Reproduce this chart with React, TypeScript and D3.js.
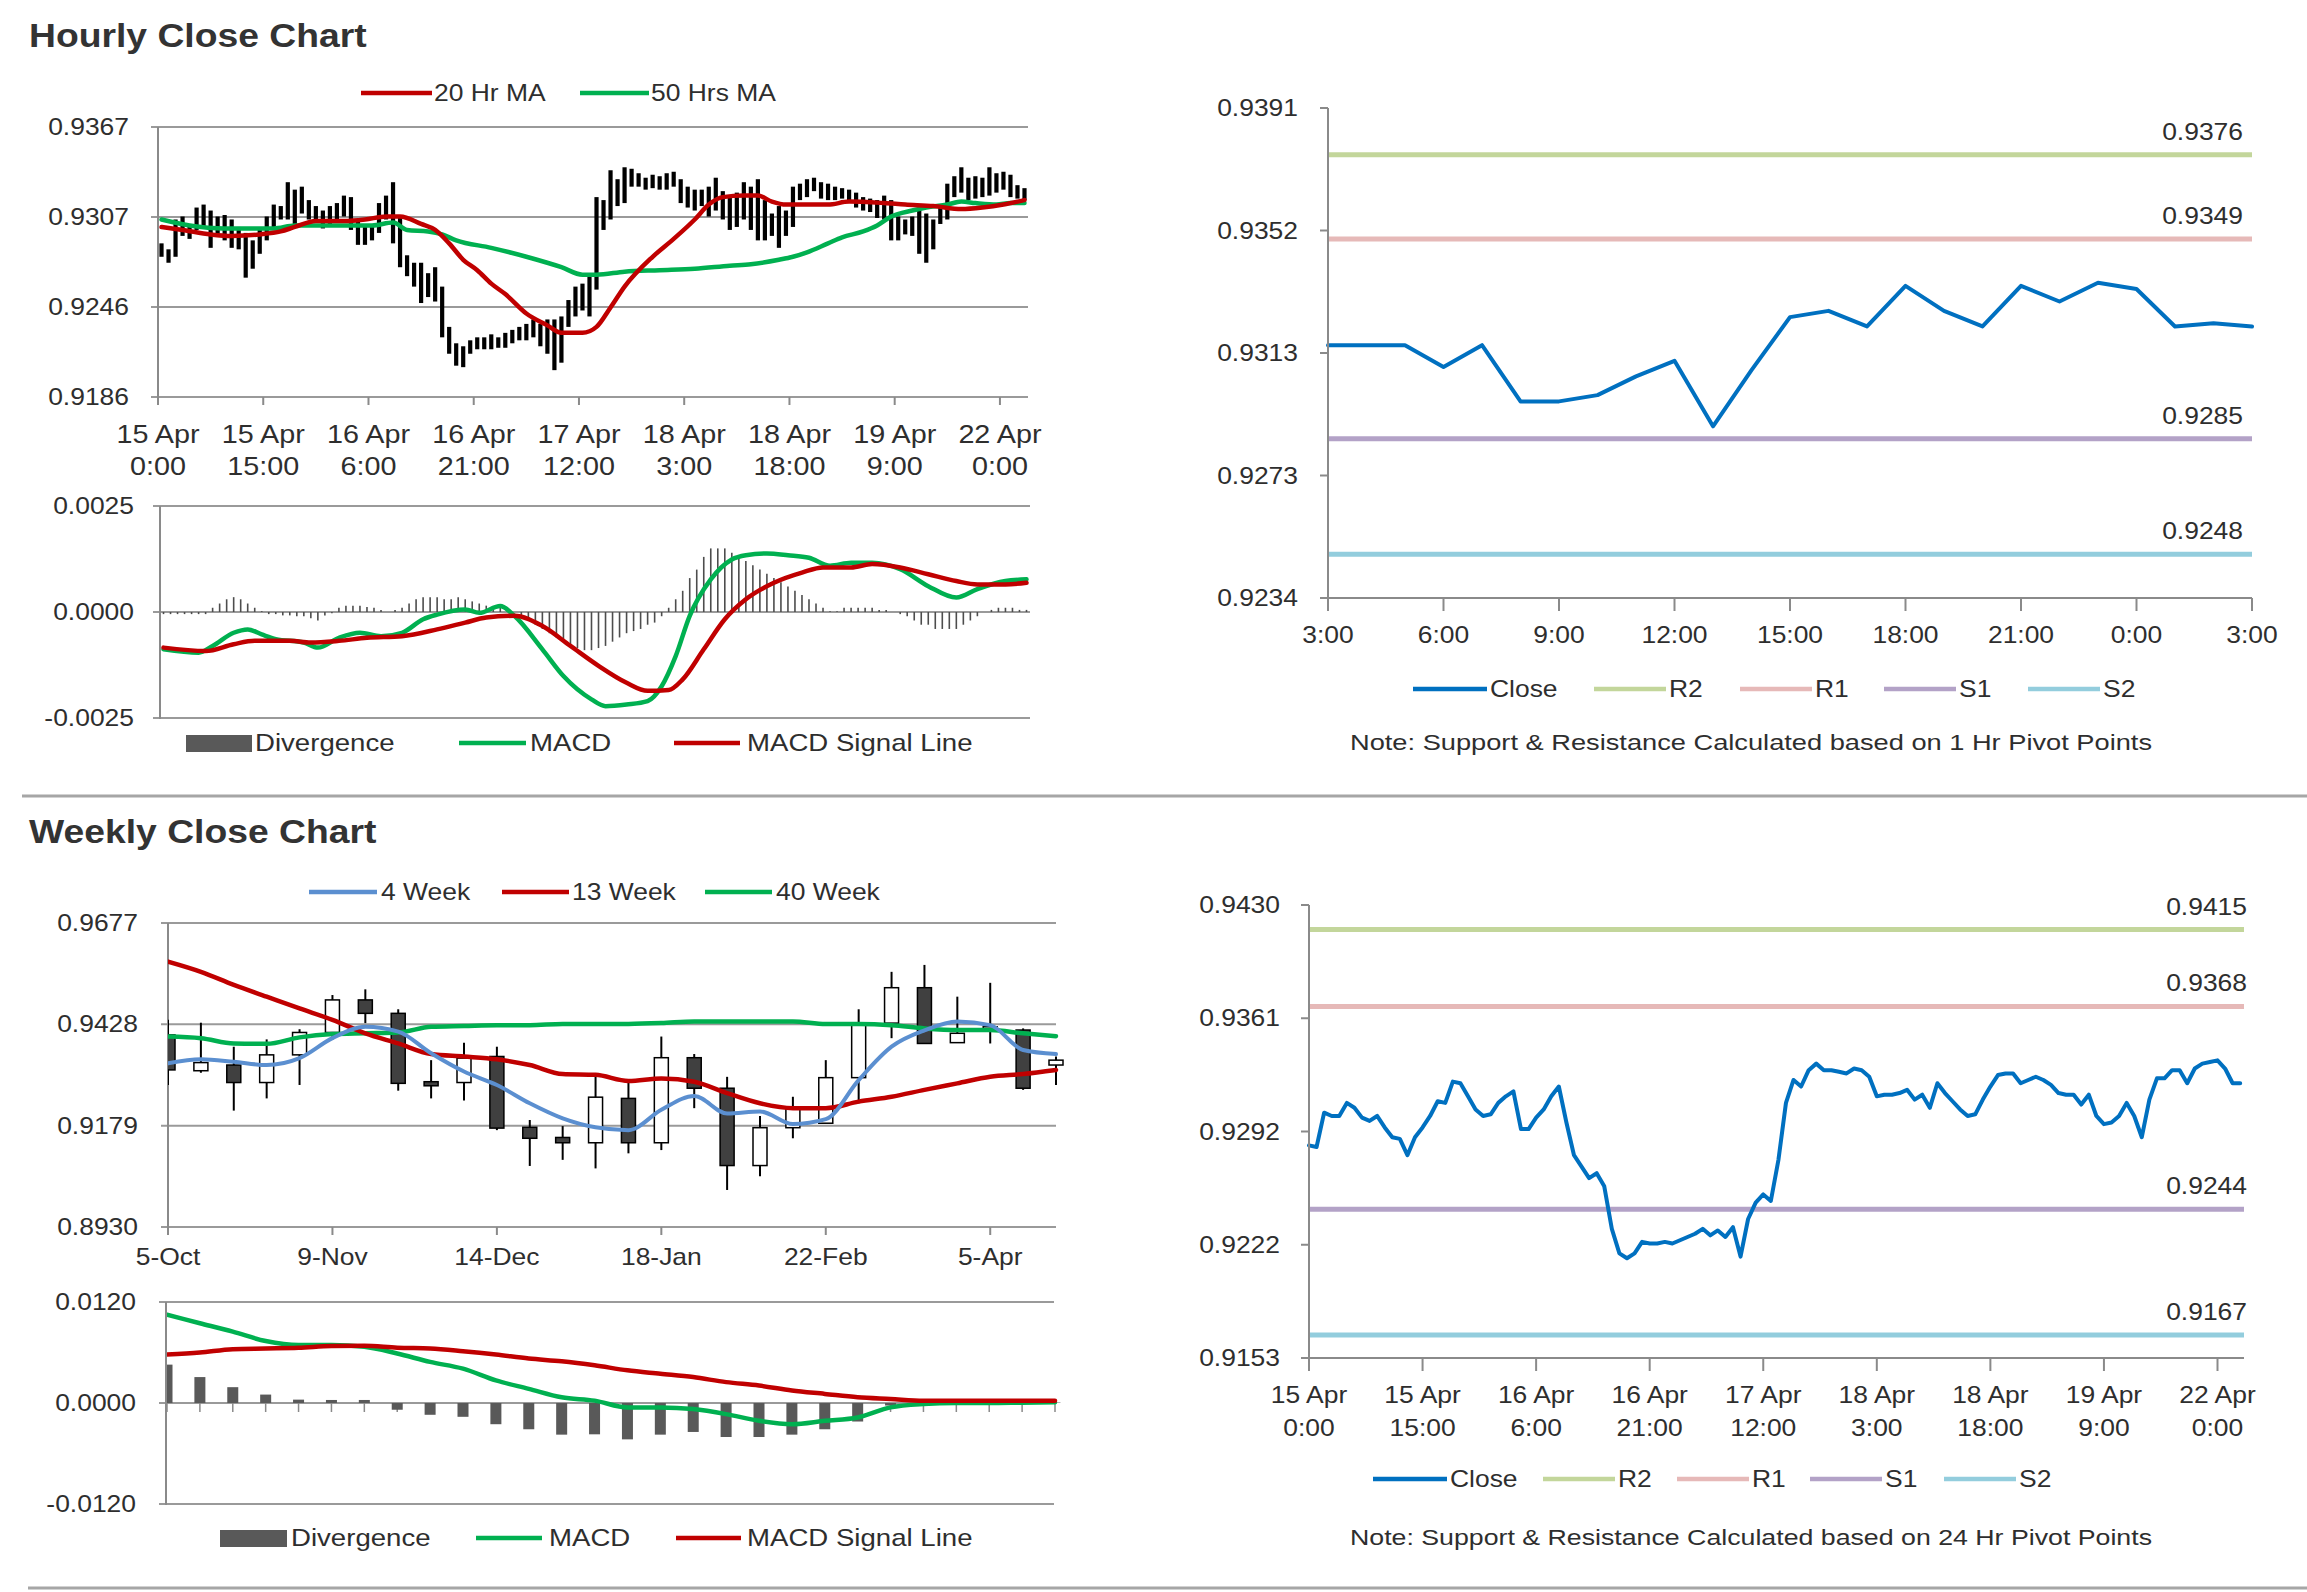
import { useEffect, useRef } from 'react';
import * as d3 from 'd3';

// ---------- hourly data, 15 Apr 0:00 -> 22 Apr 3:00 (one value per hour) ----------
const hourlyHigh = [
  0.9289, 0.9285, 0.9305, 0.9307, 0.9302, 0.9313, 0.9315, 0.9311, 0.9307, 0.9308,
  0.9305, 0.9300, 0.9296, 0.9291, 0.9298, 0.9307, 0.9315, 0.9314, 0.9330, 0.9325,
  0.9327, 0.9318, 0.9314, 0.9311, 0.9314, 0.9316, 0.9321, 0.9320, 0.9305, 0.9300,
  0.9300, 0.9316, 0.9321, 0.9330, 0.9307, 0.9281, 0.9276, 0.9276, 0.9269, 0.9273,
  0.9260, 0.9233, 0.9222, 0.9220, 0.9224, 0.9226, 0.9226, 0.9228, 0.9226, 0.9229,
  0.9231, 0.9233, 0.9235, 0.9238, 0.9235, 0.9238, 0.9238, 0.9240, 0.9251, 0.9260,
  0.9262, 0.9267, 0.9320, 0.9318, 0.9338, 0.9332, 0.9340, 0.9339, 0.9336, 0.9333,
  0.9335, 0.9334, 0.9336, 0.9337, 0.9332, 0.9327, 0.9325, 0.9325, 0.9327, 0.9333,
  0.9324, 0.9320, 0.9323, 0.9330, 0.9327, 0.9332, 0.9318, 0.9309, 0.9314, 0.9311,
  0.9327, 0.9329, 0.9332, 0.9333, 0.9330, 0.9329, 0.9327, 0.9326, 0.9325, 0.9323,
  0.9320, 0.9319, 0.9318, 0.9321, 0.9318, 0.9307, 0.9305, 0.9307, 0.9311, 0.9309,
  0.9305, 0.9314, 0.9329, 0.9334, 0.9340, 0.9333, 0.9334, 0.9333, 0.9340, 0.9336,
  0.9337, 0.9335, 0.9328, 0.9326,
];
const hourlyLow = [
  0.9280, 0.9276, 0.9280, 0.9294, 0.9292, 0.9298, 0.9300, 0.9286, 0.9295, 0.9291,
  0.9286, 0.9285, 0.9266, 0.9272, 0.9282, 0.9291, 0.9299, 0.9305, 0.9305, 0.9302,
  0.9309, 0.9305, 0.9304, 0.9299, 0.9302, 0.9305, 0.9307, 0.9298, 0.9288, 0.9288,
  0.9291, 0.9296, 0.9305, 0.9289, 0.9273, 0.9267, 0.9260, 0.9249, 0.9253, 0.9250,
  0.9226, 0.9215, 0.9207, 0.9206, 0.9215, 0.9218, 0.9218, 0.9218, 0.9219, 0.9219,
  0.9222, 0.9224, 0.9224, 0.9226, 0.9220, 0.9215, 0.9204, 0.9209, 0.9233, 0.9240,
  0.9244, 0.9240, 0.9258, 0.9298, 0.9305, 0.9314, 0.9316, 0.9327, 0.9327, 0.9325,
  0.9326, 0.9325, 0.9325, 0.9327, 0.9316, 0.9313, 0.9311, 0.9314, 0.9307, 0.9311,
  0.9305, 0.9298, 0.9300, 0.9305, 0.9298, 0.9291, 0.9291, 0.9294, 0.9286, 0.9294,
  0.9300, 0.9318, 0.9320, 0.9324, 0.9319, 0.9318, 0.9318, 0.9319, 0.9317, 0.9313,
  0.9311, 0.9310, 0.9306, 0.9305, 0.9291, 0.9291, 0.9295, 0.9294, 0.9282, 0.9276,
  0.9285, 0.9302, 0.9305, 0.9320, 0.9323, 0.9318, 0.9319, 0.9320, 0.9321, 0.9323,
  0.9325, 0.9320, 0.9319, 0.9318,
];
const hourlyClose = [
  0.9283, 0.9282, 0.9303, 0.9301, 0.9301, 0.9309, 0.9306, 0.9300, 0.9298, 0.9301,
  0.9294, 0.9288, 0.9287, 0.9277, 0.9288, 0.9294, 0.9301, 0.9310, 0.9309, 0.9322,
  0.9321, 0.9313, 0.9305, 0.9301, 0.9302, 0.9309, 0.9313, 0.9316, 0.9293, 0.9293,
  0.9300, 0.9305, 0.9313, 0.9319, 0.9297, 0.9277, 0.9270, 0.9263, 0.9266, 0.9258,
  0.9232, 0.9217, 0.9214, 0.9217, 0.9224, 0.9223, 0.9223, 0.9224, 0.9223, 0.9225,
  0.9227, 0.9229, 0.9232, 0.9228, 0.9231, 0.9227, 0.9233, 0.9215, 0.9238, 0.9248,
  0.9253, 0.9249, 0.9274, 0.9309, 0.9323, 0.9319, 0.9329, 0.9333, 0.9329, 0.9329,
  0.9328, 0.9327, 0.9330, 0.9329, 0.9325, 0.9313, 0.9314, 0.9314, 0.9315, 0.9317,
  0.9311, 0.9314, 0.9306, 0.9321, 0.9315, 0.9310, 0.9305, 0.9301, 0.9302, 0.9311,
  0.9319, 0.9326, 0.9327, 0.9327, 0.9321, 0.9323, 0.9325, 0.9323, 0.9320, 0.9315,
  0.9314, 0.9314, 0.9308, 0.9314, 0.9301, 0.9296, 0.9297, 0.9301, 0.9309, 0.9301,
  0.9288, 0.9311, 0.9324, 0.9324, 0.9329, 0.9329, 0.9321, 0.9330, 0.9333, 0.9334,
  0.9335, 0.9330, 0.9321, 0.9321,
];

// moving averages read at selected hours
const ma20Hours = [0, 3, 7, 10, 14, 17, 19, 22, 26, 29, 32, 34, 37, 39, 41, 43, 45, 47, 49, 52, 55, 57, 60, 62, 64, 66, 70, 73, 76, 78, 80, 83, 85, 87, 89, 92, 95, 98, 103, 106, 110, 114, 117, 120, 123];
const ma20Values = [
  0.9300, 0.9298, 0.9295, 0.9294, 0.9295, 0.9297, 0.9300, 0.9304, 0.9304, 0.9305,
  0.9307, 0.9307, 0.9302, 0.9298, 0.9289, 0.9278, 0.9271, 0.9262, 0.9255, 0.9242,
  0.9234, 0.9229, 0.9229, 0.9233, 0.9246, 0.9260, 0.9280, 0.9292, 0.9305, 0.9315,
  0.9320, 0.9321, 0.9321, 0.9317, 0.9315, 0.9315, 0.9315, 0.9317, 0.9316, 0.9315,
  0.9314, 0.9312, 0.9313, 0.9315, 0.9318,
];
const ma50Hours = [0, 4, 9, 16, 19, 23, 30, 33, 35, 38, 40, 42, 47, 52, 57, 60, 62, 66, 71, 76, 81, 84, 88, 90, 92, 95, 97, 100, 102, 104, 107, 109, 112, 114, 116, 119, 121, 123];
const ma50Values = [
  0.9305, 0.9301, 0.9299, 0.9299, 0.9301, 0.9301, 0.9301, 0.9303, 0.9298, 0.9297,
  0.9295, 0.9291, 0.9286, 0.9280, 0.9273, 0.9268, 0.9268, 0.9270, 0.9271, 0.9272,
  0.9274, 0.9275, 0.9278, 0.9280, 0.9283, 0.9289, 0.9293, 0.9297, 0.9301, 0.9307,
  0.9311, 0.9313, 0.9315, 0.9317, 0.9316, 0.9315, 0.9316, 0.9316,
];

// hourly MACD
const hMacdHours = [0, 5, 7, 10, 12, 14, 16, 20, 22, 25, 28, 31, 34, 37, 39, 43, 45, 48, 50, 54, 57, 61, 63, 66, 69, 71, 73, 75, 78, 81, 83, 86, 89, 92, 95, 98, 101, 105, 109, 113, 116, 120, 123];
const hMacdValues = [
  -0.00088, -0.00096, -0.00080, -0.00049, -0.00041, -0.00053, -0.00064, -0.00072, -0.00084, -0.00061,
  -0.00049, -0.00057, -0.00049, -0.00017, -0.00006, 0.00006, -0.00002, 0.00014, -0.00009, -0.00088,
  -0.00151, -0.00206, -0.00222, -0.00218, -0.00210, -0.00175, -0.00104, -0.00009, 0.00077, 0.00124,
  0.00134, 0.00138, 0.00134, 0.00128, 0.00109, 0.00116, 0.00116, 0.00101, 0.00061, 0.00034,
  0.00054, 0.00073, 0.00077,
];
const hSignalHours = [0, 6, 10, 13, 18, 21, 25, 29, 34, 39, 43, 46, 50, 54, 58, 62, 66, 69, 72, 74, 77, 80, 83, 87, 91, 94, 98, 101, 105, 109, 113, 116, 120, 123];
const hSignalValues = [
  -0.00084, -0.00092, -0.00076, -0.00068, -0.00068, -0.00072, -0.00068, -0.00061, -0.00057, -0.00041,
  -0.00025, -0.00013, -0.00009, -0.00033, -0.00080, -0.00127, -0.00167, -0.00186, -0.00184, -0.00159,
  -0.00088, -0.00017, 0.00030, 0.00069, 0.00093, 0.00105, 0.00105, 0.00113, 0.00105, 0.00089,
  0.00073, 0.00065, 0.00065, 0.00069,
];
const hDivergence = [
  -0.00005, -0.00005, -0.00005, -0.00005, -0.00005, -0.00005, -0.00005, 0.0001, 0.0002, 0.0003,
  0.00035, 0.0003, 0.0002, 0.0001, 0.00002, -0.00005, -0.00005, -0.00008, -0.00008, -0.0001,
  -0.0001, -0.00015, -0.0002, -0.00008, -0.00003, 0.0001, 0.00015, 0.00015, 0.00015, 0.00012,
  0.0001, 0.00005, 0, 0.00005, 0.0001, 0.0002, 0.0003, 0.00035, 0.00035, 0.00035,
  0.0003, 0.0003, 0.00035, 0.0003, 0.00025, 0.0002, 0.00015, 0.0001, 0.0001, 0.00005,
  0, -0.0001, -0.0002, -0.0003, -0.0004, -0.0005, -0.0006, -0.0007, -0.0008, -0.00085,
  -0.0009, -0.0009, -0.00085, -0.0008, -0.0007, -0.0006, -0.0005, -0.00045, -0.0004, -0.0003,
  -0.00025, -0.0001, 0.0001, 0.0003, 0.0005, 0.0008, 0.001, 0.0013, 0.0015, 0.0015,
  0.0015, 0.0014, 0.0013, 0.0012, 0.0011, 0.001, 0.0009, 0.0008, 0.0007, 0.0006,
  0.0005, 0.0004, 0.0003, 0.0002, 0.0001, 0.00002, 0.00002, 0.0001, 0.0001, 0.0001,
  0.0001, 0.0001, 0.00005, 0.00005, 0, -0.00005, -0.0001, -0.0002, -0.0003, -0.0003,
  -0.0004, -0.0004, -0.0004, -0.0004, -0.0003, -0.0002, -0.0001, 0, 0.00005, 0.0001,
  0.0001, 0.0001, 0.00005, 0.00005,
];

const hourlyAxisTicks = [0.9186, 0.92463, 0.93067, 0.9367];
const hourlyTickLabels = [
  ['15 Apr', '0:00'], ['15 Apr', '15:00'], ['16 Apr', '6:00'], ['16 Apr', '21:00'], ['17 Apr', '12:00'],
  ['18 Apr', '3:00'], ['18 Apr', '18:00'], ['19 Apr', '9:00'], ['22 Apr', '0:00'],
];
const hMacdTicks = [-0.0025, 0, 0.0025];

// ---------- last 25 hours, 1 Hr pivots ----------
const pivotHourClose = [
  0.9315, 0.9315, 0.9315, 0.9308, 0.9315, 0.9297, 0.9297, 0.9299, 0.9305, 0.9310,
  0.9289, 0.9307, 0.9324, 0.9326, 0.9321, 0.9334, 0.9326, 0.9321, 0.9334, 0.9329,
  0.9335, 0.9333, 0.9321, 0.9322, 0.9321,
];
const pivotHourLabels = ['3:00', '6:00', '9:00', '12:00', '15:00', '18:00', '21:00', '0:00', '3:00'];
const pivotHourAxis = ['0.9234', '0.9273', '0.9313', '0.9352', '0.9391'];
const pivotHourLevels = [0.9376, 0.9349, 0.9285, 0.9248]; // R2, R1, S1, S2

// ---------- weekly data ----------
const weeklyOpen = [
  0.9402, 0.9314, 0.9328, 0.9285, 0.9353, 0.9408, 0.9488, 0.9455, 0.9287, 0.9285,
  0.9349, 0.9175, 0.9150, 0.9137, 0.9246, 0.9137, 0.9346, 0.9271, 0.9081, 0.9174,
  0.9185, 0.9297, 0.9431, 0.9518, 0.9383, 0.9422, 0.9414, 0.9328,
];
const weeklyHigh = [
  0.9439, 0.9432, 0.9373, 0.9391, 0.9416, 0.9500, 0.9514, 0.9465, 0.9340, 0.9383,
  0.9373, 0.9193, 0.9178, 0.9301, 0.9285, 0.9398, 0.9355, 0.9299, 0.9203, 0.9250,
  0.9340, 0.9465, 0.9557, 0.9574, 0.9496, 0.9530, 0.9418, 0.9349,
];
const weeklyLow = [
  0.9279, 0.9309, 0.9216, 0.9246, 0.9279, 0.9390, 0.9431, 0.9265, 0.9246, 0.9241,
  0.9168, 0.9080, 0.9095, 0.9074, 0.9111, 0.9119, 0.9222, 0.9021, 0.9055, 0.9148,
  0.9185, 0.9234, 0.9394, 0.9381, 0.9383, 0.9381, 0.9267, 0.9279,
];
const weeklyClose = [
  0.9316, 0.9334, 0.9285, 0.9353, 0.9408, 0.9488, 0.9455, 0.9283, 0.9277, 0.9345,
  0.9173, 0.9148, 0.9137, 0.9249, 0.9137, 0.9346, 0.9271, 0.9081, 0.9174, 0.9222,
  0.9297, 0.9431, 0.9518, 0.9381, 0.9406, 0.9422, 0.9271, 0.9340,
];
const weekMa4 = [
  0.9332, 0.9342, 0.9336, 0.9328, 0.9345, 0.9394, 0.9422, 0.9410, 0.9357, 0.9312,
  0.9279, 0.9234, 0.9197, 0.9175, 0.9168, 0.9218, 0.9252, 0.9209, 0.9214, 0.9183,
  0.9195, 0.9291, 0.9373, 0.9413, 0.9435, 0.9426, 0.9365, 0.9355,
];
const weekMa13 = [
  0.9582, 0.9557, 0.9525, 0.9496, 0.9467, 0.9439, 0.9406, 0.9381, 0.9355, 0.9349,
  0.9342, 0.9328, 0.9306, 0.9304, 0.9289, 0.9295, 0.9287, 0.9259, 0.9234, 0.9222,
  0.9222, 0.9238, 0.9250, 0.9267, 0.9283, 0.9299, 0.9306, 0.9316,
];
const weekMa40 = [
  0.9398, 0.9394, 0.9381, 0.9380, 0.9396, 0.9404, 0.9406, 0.9408, 0.9422, 0.9424,
  0.9426, 0.9426, 0.9429, 0.9429, 0.9429, 0.9431, 0.9435, 0.9435, 0.9435, 0.9435,
  0.9429, 0.9429, 0.9426, 0.9418, 0.9414, 0.9414, 0.9406, 0.9399,
];
const weekMacd = [
  0.01048, 0.00948, 0.00848, 0.00736, 0.00688, 0.00688, 0.00668, 0.00588, 0.00488, 0.00408,
  0.00268, 0.00168, 0.00068, 0.00028, -0.00052, -0.00052, -0.00072, -0.00132, -0.00212, -0.00252,
  -0.00212, -0.00172, -0.00052, -0.00012, 0, 0, 0.00004, 0.00008,
];
const weekSignal = [
  0.00576, 0.006, 0.0064, 0.00648, 0.00656, 0.00676, 0.0068, 0.00656, 0.00648, 0.00616,
  0.00576, 0.00528, 0.00496, 0.00448, 0.00388, 0.00348, 0.00308, 0.00248, 0.00208, 0.00148,
  0.00108, 0.00068, 0.00048, 0.00028, 0.00028, 0.00028, 0.00028, 0.00028,
];
const weekDivergence = [
  0.00456, 0.00308, 0.00188, 0.001, 0.0004, 0.00036, 0.00036, -0.0008, -0.0014, -0.00164,
  -0.00252, -0.00312, -0.00376, -0.00372, -0.00432, -0.00376, -0.00344, -0.00404, -0.00404, -0.00376,
  -0.00312, -0.0022, -0.0003, -0.0001, 0, 0.0001, 0.0001, 0.00005,
];
const weeklyAxis = ['0.8930', '0.9179', '0.9428', '0.9677'];
const weeklyTickLabels = ['5-Oct', '9-Nov', '14-Dec', '18-Jan', '22-Feb', '5-Apr'];
const wMacdTicks = [-0.012, 0, 0.012];

// ---------- 24 Hr pivots ----------
const pivotDayAxis = ['0.9153', '0.9222', '0.9292', '0.9361', '0.9430'];
const pivotDayLevels = [0.9415, 0.9368, 0.9244, 0.9167]; // R2, R1, S1, S2

const pivotNames = ['R2', 'R1', 'S1', 'S2'];
const pivotColors = ['#c3d69b', '#e6b9b8', '#b3a2c7', '#93cddd'];

const W = 2307;
const H = 1592;
const FONT = "'Liberation Sans', Arial, Helvetica, sans-serif";
const INK = '#2e2e2e';
const GRID = '#9a9a9a';
const AXIS = '#8a8a8a';
const RED = '#c00000';
const GREEN = '#00b050';
const BLUE = '#0070c0';
const SX = 1.15;

type G = d3.Selection<SVGGElement, unknown, null, undefined>;

function label(g: G, x: number, y: number, s: string, size = 23, anchor = 'start') {
  g.append('text')
    .attr('transform', `translate(${x},${y}) scale(${SX},1)`)
    .attr('text-anchor', anchor)
    .attr('dy', '0.35em')
    .attr('font-family', FONT)
    .attr('font-size', size)
    .attr('fill', INK)
    .text(s);
}

function seg(g: G, x1: number, y1: number, x2: number, y2: number, color: string, w = 2) {
  g.append('line')
    .attr('x1', x1).attr('y1', y1).attr('x2', x2).attr('y2', y2)
    .attr('stroke', color).attr('stroke-width', w);
}

function legendItem(g: G, x1: number, x2: number, y: number, color: string, text: string, tx: number, size = 23) {
  seg(g, x1, y, x2, y, color, 4.5);
  label(g, tx, y, text, size);
}

function path(g: G, pts: [number, number][], color: string, w: number, curve: d3.CurveFactory) {
  g.append('path')
    .attr('d', d3.line().curve(curve)(pts))
    .attr('fill', 'none')
    .attr('stroke', color)
    .attr('stroke-width', w)
    .attr('stroke-linejoin', 'round')
    .attr('stroke-linecap', 'round');
}

// ---------- panels ----------
function hourlyPrice(root: G) {
  const g = root.append('g');
  const x = d3.scaleBand<number>().domain(d3.range(hourlyHigh.length)).range([158, 1028]);
  const y = d3.scaleLinear().domain([hourlyAxisTicks[0], hourlyAxisTicks[3]]).range([397, 127]);
  const cx = (h: number) => x(h)! + x.bandwidth() / 2;

  hourlyAxisTicks.forEach((v) => {
    seg(g, 151, y(v), 1028, y(v), GRID, 2);
    label(g, 129, y(v), v.toFixed(4), 23, 'end');
  });
  seg(g, 158, 127, 158, 398, AXIS, 2);
  hourlyTickLabels.forEach((lab, k) => {
    const xx = x(k * 15)!;
    seg(g, xx, 397, xx, 405, AXIS, 2);
    label(g, xx, 434, lab[0], 25, 'middle');
    label(g, xx, 466, lab[1], 25, 'middle');
  });

  g.append('g')
    .selectAll('rect')
    .data(hourlyHigh)
    .join('rect')
    .attr('x', (_, i) => cx(i) - 2.1)
    .attr('width', 4.2)
    .attr('y', (d) => y(d))
    .attr('height', (d, i) => Math.max(2, y(hourlyLow[i]) - y(d)))
    .attr('fill', '#000');

  path(g, ma50Values.map((v, i) => [cx(ma50Hours[i]), y(v)] as [number, number]), GREEN, 4.5, d3.curveMonotoneX);
  path(g, ma20Values.map((v, i) => [cx(ma20Hours[i]), y(v)] as [number, number]), RED, 4.5, d3.curveMonotoneX);

  legendItem(g, 361, 432, 93, RED, '20 Hr MA', 434);
  legendItem(g, 580, 649, 93, GREEN, '50 Hrs MA', 651);
}

function hourlyMacd(root: G) {
  const g = root.append('g');
  const x = d3.scaleBand<number>().domain(d3.range(hDivergence.length)).range([160, 1030]);
  const y = d3.scaleLinear().domain([-0.0025, 0.0025]).range([718, 506]);
  const cx = (h: number) => x(h)! + x.bandwidth() / 2;

  hMacdTicks.forEach((v) => {
    seg(g, 153, y(v), 1030, y(v), GRID, 2);
    label(g, 134, y(v), v.toFixed(4), 23, 'end');
  });
  seg(g, 160, 506, 160, 719, AXIS, 2);

  g.append('g')
    .selectAll('line')
    .data(hDivergence)
    .join('line')
    .attr('x1', (_, i) => cx(i))
    .attr('x2', (_, i) => cx(i))
    .attr('y1', y(0))
    .attr('y2', (d) => y(d))
    .attr('stroke', '#4d4d4d')
    .attr('stroke-width', 1.6);

  path(g, hMacdValues.map((v, i) => [cx(hMacdHours[i]), y(v)] as [number, number]), GREEN, 4.5, d3.curveMonotoneX);
  path(g, hSignalValues.map((v, i) => [cx(hSignalHours[i]), y(v)] as [number, number]), RED, 4.5, d3.curveMonotoneX);

  g.append('rect').attr('x', 186).attr('y', 735).attr('width', 66).attr('height', 17).attr('fill', '#595959');
  label(g, 255, 743, 'Divergence', 24);
  legendItem(g, 459, 526, 743, GREEN, 'MACD', 530, 24);
  legendItem(g, 674, 740, 743, RED, 'MACD  Signal Line', 747, 24);
}

function pivotChart(
  root: G,
  opts: {
    left: number; right: number; top: number; bottom: number;
    axis: string[]; levels: number[]; close: number[]; xMax: number;
    tickEvery: number; xLabels: string[][]; labelRight: number; levelRight: number;
    legendY: number; legendX: number[]; note: string; noteY: number; labY: number[];
  }
) {
  const g = root.append('g');
  const lo = +opts.axis[0];
  const hi = +opts.axis[opts.axis.length - 1];
  const y = d3.scaleLinear().domain([lo, hi]).range([opts.bottom, opts.top]);
  const x = d3.scaleLinear().domain([0, opts.xMax]).range([opts.left, opts.right]);
  const n = opts.axis.length - 1;

  opts.axis.forEach((s, k) => {
    const yy = opts.bottom - ((opts.bottom - opts.top) * k) / n;
    seg(g, opts.left - 8, yy, opts.left, yy, AXIS, 2);
    label(g, opts.labelRight, yy, s, 23, 'end');
  });

  opts.levels.forEach((v, k) => {
    seg(g, opts.left, y(v), opts.right, y(v), pivotColors[k], 5);
    label(g, opts.levelRight, y(v) - 23, v.toFixed(4), 23, 'end');
  });

  path(g, opts.close.map((v, i) => [x(i), y(v)] as [number, number]), BLUE, 4, d3.curveLinear);

  seg(g, opts.left, opts.top, opts.left, opts.bottom + 1, AXIS, 2);
  seg(g, opts.left, opts.bottom, opts.right, opts.bottom, AXIS, 2);
  opts.xLabels.forEach((lab, k) => {
    const xx = x(k * opts.tickEvery);
    seg(g, xx, opts.bottom, xx, opts.bottom + 13, AXIS, 2);
    lab.forEach((s, j) => label(g, xx, opts.labY[j], s, 23, 'middle'));
  });

  const lx = opts.legendX;
  legendItem(g, lx[0], lx[0] + 74, opts.legendY, BLUE, 'Close', lx[0] + 77);
  pivotNames.forEach((nm, k) => {
    legendItem(g, lx[k + 1], lx[k + 1] + 72, opts.legendY, pivotColors[k], nm, lx[k + 1] + 75);
  });

  g.append('text')
    .attr('x', 1751)
    .attr('y', opts.noteY)
    .attr('dy', '0.35em')
    .attr('text-anchor', 'middle')
    .attr('font-family', FONT)
    .attr('font-size', 21.5)
    .attr('textLength', 802)
    .attr('lengthAdjust', 'spacingAndGlyphs')
    .attr('fill', INK)
    .text(opts.note);
}

function weeklyPrice(root: G) {
  const g = root.append('g');
  const x = d3.scaleLinear().domain([0, 27]).range([168, 1056]);
  const y = d3.scaleLinear().domain([+weeklyAxis[0], +weeklyAxis[3]]).range([1227, 923]);

  root.append('clipPath').attr('id', 'wclip')
    .append('rect').attr('x', 168).attr('y', 880).attr('width', 920).attr('height', 380);

  weeklyAxis.forEach((s) => {
    seg(g, 161, y(+s), 1056, y(+s), GRID, 2);
    label(g, 138, y(+s), s, 23, 'end');
  });
  seg(g, 168, 923, 168, 1228, AXIS, 2);
  weeklyTickLabels.forEach((s, k) => {
    const xx = x(k * 5);
    seg(g, xx, 1227, xx, 1235, AXIS, 2);
    label(g, xx, 1257, s, 23, 'middle');
  });

  const c = g.append('g').attr('clip-path', 'url(#wclip)');
  weeklyClose.forEach((cl, i) => {
    const op = weeklyOpen[i];
    seg(c, x(i), y(weeklyHigh[i]), x(i), y(weeklyLow[i]), '#000', 2);
    const top = y(Math.max(op, cl));
    const bot = y(Math.min(op, cl));
    c.append('rect')
      .attr('x', x(i) - 7)
      .attr('width', 14)
      .attr('y', top)
      .attr('height', Math.max(2, bot - top))
      .attr('fill', cl < op ? '#404040' : '#ffffff')
      .attr('stroke', '#000')
      .attr('stroke-width', 1.5);
  });

  const pts = (arr: number[]) => arr.map((v, i) => [x(i), y(v)] as [number, number]);
  path(c, pts(weekMa40), GREEN, 4.5, d3.curveMonotoneX);
  path(c, pts(weekMa13), RED, 4.5, d3.curveMonotoneX);
  path(c, pts(weekMa4), '#5b8fd0', 4, d3.curveMonotoneX);

  legendItem(g, 309, 377, 892, '#5b8fd0', '4 Week', 381);
  legendItem(g, 502, 569, 892, RED, '13 Week', 572);
  legendItem(g, 705, 772, 892, GREEN, '40 Week', 776);
}

function weeklyMacd(root: G) {
  const g = root.append('g');
  const x = d3.scaleLinear().domain([0, 27]).range([167, 1055]);
  const y = d3.scaleLinear().domain([-0.012, 0.012]).range([1504, 1302]);

  root.append('clipPath').attr('id', 'mclip')
    .append('rect').attr('x', 167).attr('y', 1290).attr('width', 900).attr('height', 230);

  wMacdTicks.forEach((v) => {
    seg(g, 159, y(v), 1054, y(v), GRID, 2);
    label(g, 136, y(v), v.toFixed(4), 23, 'end');
  });
  seg(g, 166, 1302, 166, 1505, AXIS, 2);
  weekDivergence.forEach((_, i) => seg(g, x(i), y(0), x(i), y(0) + 9, AXIS, 1.5));

  const c = g.append('g').attr('clip-path', 'url(#mclip)');
  c.selectAll('rect')
    .data(weekDivergence)
    .join('rect')
    .attr('x', (_, i) => x(i) - 5.5)
    .attr('width', 11)
    .attr('y', (d) => Math.min(y(0), y(d)))
    .attr('height', (d) => Math.abs(y(d) - y(0)))
    .attr('fill', '#595959');

  const pts = (arr: number[]) => arr.map((v, i) => [x(i), y(v)] as [number, number]);
  path(c, pts(weekMacd), GREEN, 4.5, d3.curveMonotoneX);
  path(c, pts(weekSignal), RED, 4.5, d3.curveMonotoneX);

  g.append('rect').attr('x', 220).attr('y', 1530).attr('width', 67).attr('height', 17).attr('fill', '#595959');
  label(g, 291, 1538, 'Divergence', 24);
  legendItem(g, 476, 542, 1538, GREEN, 'MACD', 549, 24);
  legendItem(g, 676, 741, 1538, RED, 'MACD Signal Line', 747, 24);
}

export default function App() {
  const ref = useRef<SVGSVGElement>(null);

  useEffect(() => {
    if (!ref.current) return;
    const svg = d3.select(ref.current);
    svg.selectAll('*').remove();
    svg.append('rect').attr('width', W).attr('height', H).attr('fill', '#fff');
    const root = svg.append('g') as unknown as G;

    // section titles
    [['Hourly Close Chart', 47], ['Weekly Close Chart', 843]].forEach(([t, yy]) => {
      root.append('text')
        .attr('transform', `translate(29,${yy}) scale(1.13,1)`)
        .attr('font-family', FONT)
        .attr('font-weight', 'bold')
        .attr('font-size', 33)
        .attr('fill', '#333')
        .text(t as string);
    });
    // separators
    seg(root, 22, 796, W, 796, '#a6a6a6', 3);
    seg(root, 28, 1588, W, 1588, '#a6a6a6', 3);

    hourlyPrice(root);
    hourlyMacd(root);
    weeklyPrice(root);
    weeklyMacd(root);

    pivotChart(root, {
      left: 1328, right: 2252, top: 108, bottom: 598,
      axis: pivotHourAxis, levels: pivotHourLevels, close: pivotHourClose, xMax: 24,
      tickEvery: 3, xLabels: pivotHourLabels.map((s) => [s]), labelRight: 1298, levelRight: 2243,
      legendY: 689, legendX: [1413, 1594, 1740, 1884, 2028],
      note: 'Note: Support & Resistance Calculated based on 1 Hr Pivot Points', noteY: 742, labY: [635],
    });
    pivotChart(root, {
      left: 1309, right: 2244, top: 905, bottom: 1358,
      axis: pivotDayAxis, levels: pivotDayLevels, close: hourlyClose, xMax: 123.5,
      tickEvery: 15, xLabels: hourlyTickLabels, labelRight: 1280, levelRight: 2247,
      legendY: 1479, legendX: [1373, 1543, 1677, 1810, 1944],
      note: 'Note: Support & Resistance Calculated based on 24 Hr Pivot Points', noteY: 1537, labY: [1395, 1428],
    });
  }, []);

  return (
    <svg
      ref={ref}
      width={W}
      height={H}
      style={{ position: 'absolute', left: 0, top: 0, display: 'block' }}
    />
  );
}
